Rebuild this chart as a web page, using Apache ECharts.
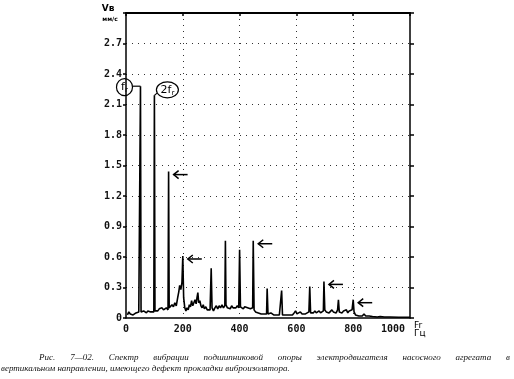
<!DOCTYPE html>
<html><head><meta charset="utf-8">
<script src="https://cdn.jsdelivr.net/npm/echarts@6/dist/echarts.min.js"></script>
<style>html,body{margin:0;padding:0;background:#fff}#c{width:514px;height:379px}</style>
</head><body><div id="c"></div>
<script>
// Frequency (Hz) and vibration velocity (mm/s)
const freq = [5,10,15,20,25,30,35,40,45,49,51,53,58,62,67,72,77,82,87,92,98,100,102,107,112,117,122,127,132,137,142,148,150,152,157,162,167,172,177,182,186,189,193,197,200,203,207,211,215,219,223,227,231,235,239,243,247,250,253,256,260,264,268,272,276,281,286,291,296,300,303,308,313,318,323,328,333,338,343,348,350,352,357,362,367,372,377,382,387,392,397,400,403,408,413,418,423,428,433,438,443,446,448,451,456,461,466,471,476,481,486,491,495,497,500,505,510,515,520,525,530,535,540,545,548,551,556,562,568,574,580,586,592,597,602,608,614,620,626,632,638,644,647,650,655,660,665,670,675,680,685,690,695,697,700,705,710,715,720,725,730,735,740,745,748,751,756,761,766,771,776,781,786,791,796,800,803,808,814,820,826,832,838,844,850,856,862,868,875,885,895,910,930,960,1000];
const amp = [0.03,0.06,0.04,0.05,0.03,0.04,0.05,0.04,0.06,0.05,2.28,0.06,0.05,0.07,0.06,0.05,0.07,0.08,0.06,0.07,0.06,2.19,0.07,0.08,0.07,0.09,0.08,0.10,0.08,0.09,0.10,0.08,1.44,0.10,0.09,0.13,0.11,0.15,0.12,0.20,0.26,0.32,0.28,0.35,0.61,0.20,0.10,0.07,0.10,0.08,0.13,0.11,0.17,0.12,0.15,0.18,0.14,0.20,0.25,0.15,0.17,0.12,0.10,0.13,0.09,0.11,0.08,0.09,0.08,0.49,0.10,0.07,0.10,0.12,0.09,0.12,0.10,0.13,0.10,0.12,0.76,0.13,0.10,0.11,0.09,0.12,0.10,0.11,0.10,0.12,0.10,0.67,0.11,0.10,0.09,0.11,0.12,0.10,0.11,0.09,0.08,0.10,0.76,0.08,0.06,0.07,0.05,0.06,0.04,0.05,0.04,0.05,0.04,0.29,0.04,0.03,0.05,0.04,0.03,0.04,0.03,0.04,0.03,0.04,0.27,0.03,0.04,0.03,0.04,0.03,0.04,0.03,0.05,0.07,0.04,0.05,0.06,0.04,0.05,0.04,0.05,0.06,0.31,0.05,0.06,0.05,0.07,0.05,0.06,0.07,0.05,0.06,0.07,0.36,0.08,0.06,0.07,0.05,0.06,0.08,0.06,0.07,0.05,0.08,0.18,0.06,0.07,0.05,0.07,0.06,0.08,0.05,0.07,0.06,0.08,0.18,0.06,0.03,0.04,0.02,0.03,0.02,0.04,0.02,0.03,0.02,0.03,0.015,0.02,0.01,0.015,0.01,0.01,0.008,0.008];
const xTickLabels = ['0','200','400','600','800','1000'];
const yTickLabels = ['0','0.3','0.6','0.9','1.2','1.5','1.8','2.1','2.4','2.7',''];
const peakFr = [51, 2.28];
const peak2Fr = [100, 2.19];
const arrowPeaks = [[150,1.44],[200,0.61],[448,0.76],[697,0.36],[800,0.18]];
const captionLine1 = 'Рис. 7—02. Спектр вибрации подшипниковой опоры электродвигателя насосного агрегата в';
const captionLine2 = 'вертикальном направлении, имеющего дефект прокладки виброизолятора.';

const chart = echarts.init(document.getElementById('c'), null, {renderer:'canvas'});
const dotted = {color:'#333', width:1, type:[1,5]};
const tickFont = {fontFamily:'DejaVu Sans Mono', fontSize:10, fontWeight:'bold', color:'#111'};
chart.setOption({
  animation:false,
  backgroundColor:'#fff',
  grid:{left:126, right:104, top:13, bottom:61},
  xAxis:[
    {type:'value', position:'bottom', min:0, max:1000, interval:200,
     axisLine:{show:true, onZero:false, lineStyle:{color:'#000', width:1.5}},
     axisTick:{show:false},
     axisLabel:Object.assign({margin:6, alignMaxLabel:'right',
       formatter:v=>{const i=Math.round(v/200); return i===5 ? '{m|'+xTickLabels[i]+'}' : xTickLabels[i];},
       rich:{m:Object.assign({padding:[0,5,0,0]}, {fontFamily:'DejaVu Sans Mono', fontSize:10, fontWeight:'bold', color:'#111'})}}, tickFont),
     splitLine:{show:true, showMinLine:false, showMaxLine:false, lineStyle:dotted}},
    {type:'value', position:'top', min:0, max:1000, interval:200,
     axisLine:{show:true, onZero:false, lineStyle:{color:'#000', width:2}},
     axisTick:{show:true, inside:true, length:3, lineStyle:{color:'#000', width:1.5}},
     axisLabel:{show:false}, splitLine:{show:false}}
  ],
  yAxis:[
    {type:'value', position:'left', min:0, max:3, interval:0.3,
     axisLine:{show:true, onZero:false, lineStyle:{color:'#000', width:1.5}},
     axisTick:{show:true, length:3, lineStyle:{color:'#000', width:1.5}},
     axisLabel:Object.assign({margin:4, formatter:v=>yTickLabels[Math.round(v/0.3)]}, tickFont),
     splitLine:{show:true, showMinLine:false, showMaxLine:false, lineStyle:dotted}},
    {type:'value', position:'right', min:0, max:3, interval:0.3,
     axisLine:{show:true, onZero:false, lineStyle:{color:'#000', width:1.5}},
     axisTick:{show:true, length:4, lineStyle:{color:'#000', width:1.5}},
     axisLabel:{show:false}, splitLine:{show:false}}
  ],
  series:[{
    type:'line', xAxisIndex:0, yAxisIndex:0,
    data:freq.map((f,i)=>[f, amp[i]]),
    showSymbol:false, symbol:'none',
    lineStyle:{color:'#000', width:1.6}
  }]
});

const px = p => chart.convertToPixel({seriesIndex:0}, p);
const g = [];
// arrows
arrowPeaks.forEach(p => {
  const [x, y] = px(p);
  const ax = x + 5, ay = y + 3;
  g.push({type:'polyline', shape:{points:[[ax,ay],[ax+14,ay]]}, style:{stroke:'#000', lineWidth:1.5, fill:null}});
  g.push({type:'polyline', shape:{points:[[ax+5,ay-4],[ax,ay],[ax+5,ay+4]]}, style:{stroke:'#000', lineWidth:1.5, fill:null}});
});
// f_r circle
{
  const [x, y] = px(peakFr);
  const cx = x - 16, cy = y + 1;
  g.push({type:'polyline', shape:{points:[[cx+8,y],[x,y]]}, style:{stroke:'#000', lineWidth:1.2, fill:null}});
  g.push({type:'ellipse', shape:{cx:cx, cy:cy, rx:8, ry:8.5}, style:{stroke:'#000', lineWidth:1.2, fill:'#fff'}});
  g.push({type:'text', x:cx, y:cy, style:{text:'{a|f}{b|r}', align:'center', verticalAlign:'middle',
    rich:{a:{fontFamily:'DejaVu Sans', fontSize:11, fill:'#000'}, b:{fontFamily:'DejaVu Sans', fontSize:7, fill:'#000', padding:[6,0,0,0]}}}});
}
// 2f_r ellipse
{
  const [x, y] = px(peak2Fr);
  const cx = x + 13, cy = y - 5.5;
  g.push({type:'polyline', shape:{points:[[x,y],[cx-10,cy+3]]}, style:{stroke:'#000', lineWidth:1.2, fill:null}});
  g.push({type:'ellipse', shape:{cx:cx, cy:cy, rx:11, ry:8}, style:{stroke:'#000', lineWidth:1.2, fill:'#fff'}});
  g.push({type:'text', x:cx, y:cy, style:{text:'{a|2f}{b|r}', align:'center', verticalAlign:'middle',
    rich:{a:{fontFamily:'DejaVu Sans', fontSize:11, fill:'#000'}, b:{fontFamily:'DejaVu Sans', fontSize:7, fill:'#000', padding:[6,0,0,0]}}}});
}
// axis names
g.push({type:'text', x:108, y:9, style:{text:'Vв', font:'bold 9px "DejaVu Sans"', fill:'#000', align:'center', verticalAlign:'middle'}});
g.push({type:'text', x:110, y:19, style:{text:'мм/с', font:'bold 6px "DejaVu Sans"', fill:'#000', align:'center', verticalAlign:'middle'}});
g.push({type:'text', x:414, y:326, style:{text:'Fr', font:'9px "DejaVu Sans"', fill:'#000', align:'left', verticalAlign:'middle'}});
g.push({type:'text', x:414, y:334, style:{text:'Гц', font:'9px "DejaVu Sans"', fill:'#000', align:'left', verticalAlign:'middle'}});
// caption (first line justified)
const capFont = 'italic 9px "Liberation Serif"';
const ctx = document.createElement('canvas').getContext('2d');
ctx.font = capFont;
const words = captionLine1.split(' ');
const widths = words.map(w => ctx.measureText(w).width);
const x0 = 39, x1 = 510;
const gap = (x1 - x0 - widths.reduce((a,b)=>a+b,0)) / (words.length - 1);
let cxp = x0;
words.forEach((w,i) => {
  g.push({type:'text', x:cxp, y:358, style:{text:w, font:capFont, fill:'#111', align:'left', verticalAlign:'middle'}});
  cxp += widths[i] + gap;
});
g.push({type:'text', x:1, y:369, style:{text:captionLine2, font:capFont, fill:'#111', align:'left', verticalAlign:'middle'}});
chart.setOption({graphic:g});
</script>
</body></html>
